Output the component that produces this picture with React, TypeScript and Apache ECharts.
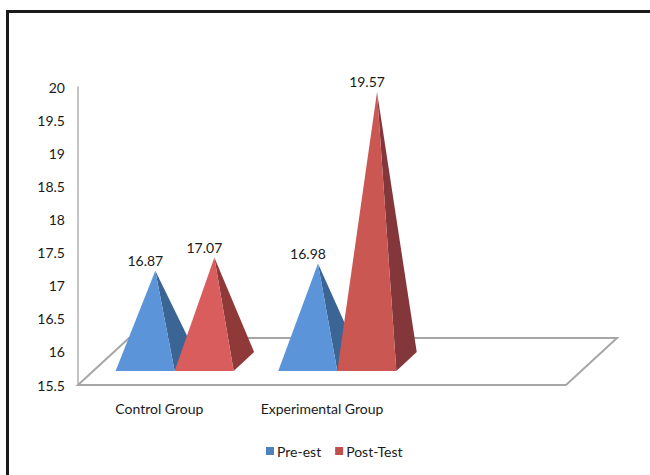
import React, { useEffect, useRef } from "react";
import * as echarts from "echarts";

const categories = ["Control Group", "Experimental Group", ""];
const seriesNames = ["Pre-est", "Post-Test"];
const preTest = [16.87, 16.98];
const postTest = [17.07, 19.57];
const yTicks = ["15.5", "16", "16.5", "17", "17.5", "18", "18.5", "19", "19.5", "20"];

const FONT = "Lato, sans-serif";
const FONT_SIZE = 14;
const TEXT = "#1a1a1a";
const GRID = { left: 78, right: 84, top: 87, bottom: 90 };
// Screen offset of the floor's back edge relative to its front edge.
const DEPTH_X = 51;
const DEPTH_Y = -47;
const BAR_SHARE = 0.363;
const FRONT = 0.3;
const BACK = 0.7;

type Palette = { front: string[]; side: string[] };
const preColors: Palette = { front: ["#5b94d8", "#5b94d8"], side: ["#3b6594", "#3b6594"] };
const postColors: Palette = { front: ["#d85d5c", "#cb5752"], side: ["#8f3a39", "#83373a"] };

// One pyramid: front and side faces, apex set at mid depth, plus its value label.
function pyramid(seriesIndex: number, colors: Palette) {
  return (params: any, api: any) => {
    const cat = api.value(0);
    const value = api.value(1);
    const i = params.dataIndex;
    const band = api.size([1, 0])[0];
    const w = band * BAR_SHARE;
    const [cx, top] = api.coord([cat, value]);
    const floorY = api.coord([cat, 15.5])[1];
    const left = cx + (seriesIndex === 0 ? -w : 0);
    const right = left + w;
    const fx = DEPTH_X * FRONT;
    const fy = floorY + DEPTH_Y * FRONT;
    const bx = DEPTH_X * BACK;
    const by = floorY + DEPTH_Y * BACK;
    const apexX = (left + right) / 2 + DEPTH_X / 2;
    const apexY = top + DEPTH_Y / 2;
    return {
      type: "group",
      children: [
        {
          type: "polygon",
          shape: { points: [[right + fx, fy], [right + bx, by], [apexX, apexY]] },
          style: { fill: colors.side[i] },
        },
        {
          type: "polygon",
          shape: { points: [[left + fx, fy], [right + fx, fy], [apexX, apexY]] },
          style: { fill: colors.front[i] },
        },
        {
          type: "text",
          x: apexX - 10,
          y: apexY - 10,
          style: {
            text: value.toFixed(2),
            fill: TEXT,
            font: `${FONT_SIZE}px ${FONT}`,
            align: "center",
            verticalAlign: "middle",
          },
        },
      ],
    };
  };
}

function App() {
  const ref = useRef<HTMLDivElement>(null);
  useEffect(() => {
    const chart = echarts.init(ref.current!, undefined, { renderer: "svg" });
    const frontY = 475 - GRID.bottom;
    const x0 = GRID.left;
    const x1 = 650 - GRID.right;
    chart.setOption({
      animation: false,
      backgroundColor: "#ffffff",
      textStyle: { fontFamily: FONT },
      grid: { ...GRID },
      graphic: [
        {
          type: "rect",
          z: 0,
          shape: { x: 7.5, y: 11.5, width: 700, height: 520 },
          style: { fill: "#ffffff", stroke: "#1a1a1a", lineWidth: 3 },
        },
        {
          type: "polygon",
          z: 1,
          shape: {
            points: [
              [x0, frontY],
              [x1, frontY],
              [x1 + DEPTH_X, frontY + DEPTH_Y],
              [x0 + DEPTH_X, frontY + DEPTH_Y],
            ],
          },
          style: { fill: "#ffffff", stroke: "#a6a6a6", lineWidth: 2 },
        },
      ],
      legend: {
        data: seriesNames,
        left: 261,
        top: 439,
        itemWidth: 8,
        itemHeight: 8,
        itemGap: 14,
        icon: "rect",
        textStyle: { color: TEXT, fontSize: FONT_SIZE, fontFamily: FONT, padding: [0, 0, 0, -2] },
      },
      xAxis: {
        type: "category",
        data: categories,
        axisLine: { show: false },
        axisTick: { show: false },
        axisLabel: { color: TEXT, fontSize: FONT_SIZE, fontFamily: FONT, margin: 16, interval: 0 },
      },
      yAxis: {
        type: "value",
        min: 15.5,
        max: 20,
        interval: 0.5,
        axisLine: { show: true, lineStyle: { color: "#b0b0b0", width: 1.5 } },
        axisTick: { show: false },
        splitLine: { show: false },
        axisLabel: {
          color: TEXT,
          fontSize: FONT_SIZE,
          fontFamily: FONT,
          margin: 13,
          formatter: (v: number) => yTicks[Math.round((v - 15.5) / 0.5)],
        },
      },
      series: [
        {
          type: "custom",
          name: seriesNames[0],
          z: 3,
          clip: false,
          itemStyle: { color: "#4f81bd" },
          renderItem: pyramid(0, preColors),
          data: preTest.map((v, i) => [i, v]),
        },
        {
          type: "custom",
          name: seriesNames[1],
          z: 4,
          clip: false,
          itemStyle: { color: "#c0504d" },
          renderItem: pyramid(1, postColors),
          data: postTest.map((v, i) => [i, v]),
        },
      ],
    });
    return () => chart.dispose();
  }, []);
  return <div ref={ref} style={{ position: "fixed", left: 0, top: 0, width: 650, height: 475 }} />;
}

export default App;
